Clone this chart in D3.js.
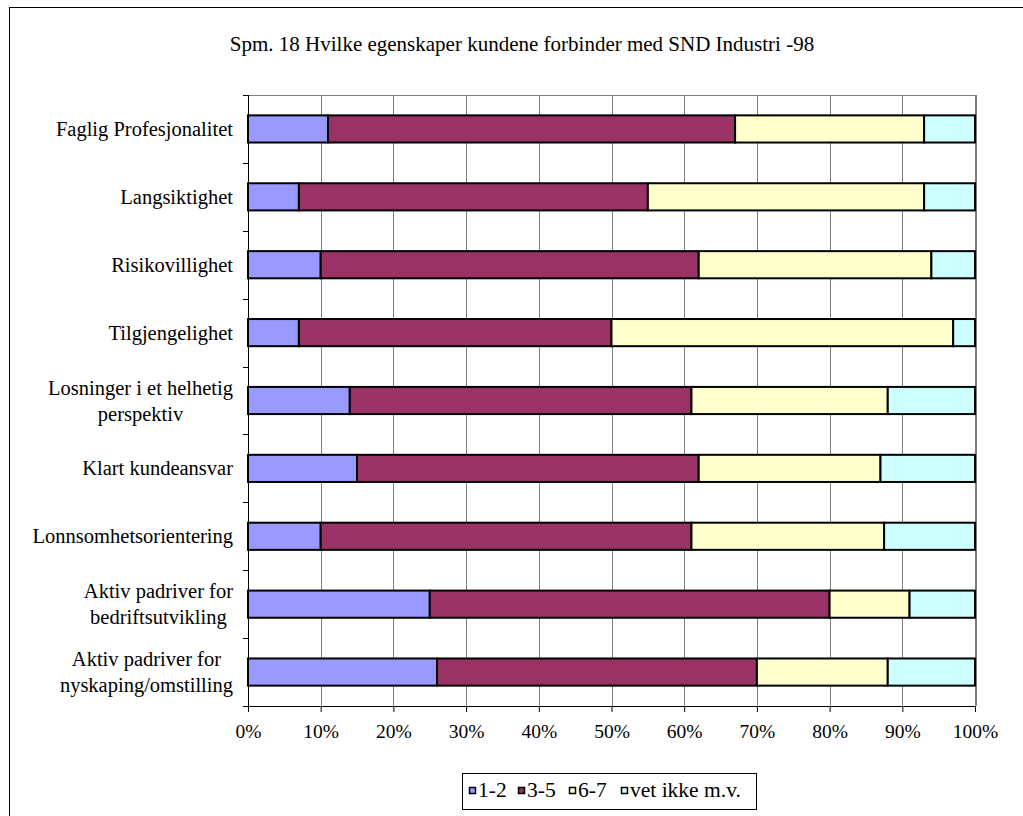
<!DOCTYPE html>
<html>
<head>
<meta charset="utf-8">
<script src="https://cdn.jsdelivr.net/npm/d3@7"></script>
<style>
  html, body { margin: 0; padding: 0; background: #fff; }
  svg { display: block; }
  svg text { font-family: "Liberation Serif", "Times New Roman", serif; fill: #000; }
</style>
</head>
<body>
<svg id="chart" width="1023" height="816"></svg>
<script>
// Survey question 18: share of answers per attribute, stacked to 100 %
const categories = [
  ["Faglig Profesjonalitet"],
  ["Langsiktighet"],
  ["Risikovillighet"],
  ["Tilgjengelighet"],
  ["Losninger i et helhetig", "perspektiv"],
  ["Klart kundeansvar"],
  ["Lonnsomhetsorientering"],
  ["Aktiv padriver for", "bedriftsutvikling"],
  ["Aktiv padriver for", "nyskaping/omstilling"]
];
const seriesNames = ["1-2", "3-5", "6-7", "vet ikke m.v."];
const score12   = [11,  7, 10,  7, 14, 15, 10,   25, 26];
const score35   = [56, 48, 52, 43, 47, 47, 51,   55, 44];
const score67   = [26, 38, 32, 47, 27, 25, 26.5, 11, 18];
const dontKnow  = [ 7,  7,  6,  3, 12, 13, 12.5,  9, 12];
const tickValues = [0, 10, 20, 30, 40, 50, 60, 70, 80, 90, 100];
const titleText = "Spm. 18 Hvilke egenskaper kundene forbinder med SND Industri -98";
const colors = ["#9999FF", "#993366", "#FFFFCC", "#CCFFFF"];

const seriesValues = [score12, score35, score67, dontKnow];
const rows = categories.map((c, i) => {
  const r = { key: i };
  seriesNames.forEach((s, j) => { r[s] = seriesValues[j][i]; });
  return r;
});

const svg = d3.select("#chart");
const plot = { left: 248, right: 975, top: 95, bottom: 706 };

// outer chart frame
svg.append("rect")
  .attr("x", 9.5).attr("y", 7.5)
  .attr("width", 1040).attr("height", 830)
  .attr("fill", "#fff").attr("stroke", "#000").attr("stroke-width", 1);

svg.append("text")
  .attr("x", 522).attr("y", 51)
  .attr("text-anchor", "middle")
  .attr("font-size", 21)
  .text(titleText);

const x = d3.scaleLinear().domain([0, 100]).range([plot.left, plot.right]);
const y = d3.scaleBand()
  .domain(d3.range(categories.length))
  .range([plot.top, plot.bottom])
  .paddingInner(0.6).paddingOuter(0.3);

// gridlines
svg.append("g")
  .selectAll("line")
  .data(tickValues.filter(v => v > 0))
  .join("line")
  .attr("x1", d => Math.round(x(d)) + 0.5).attr("x2", d => Math.round(x(d)) + 0.5)
  .attr("y1", plot.top).attr("y2", plot.bottom)
  .attr("stroke", "#808080").attr("stroke-width", 1);
svg.append("line")
  .attr("x1", plot.left).attr("x2", plot.right + 1)
  .attr("y1", plot.top + 0.5).attr("y2", plot.top + 0.5)
  .attr("stroke", "#808080").attr("stroke-width", 1);
svg.append("line")
  .attr("x1", plot.right + 1).attr("x2", plot.right + 1)
  .attr("y1", plot.top).attr("y2", plot.bottom)
  .attr("stroke", "#808080").attr("stroke-width", 2);

// stacked bars
const stack = d3.stack().keys(seriesNames);
const stacked = stack(rows);
svg.append("g")
  .selectAll("g")
  .data(stacked)
  .join("g")
  .attr("fill", (d, i) => colors[i])
  .selectAll("rect")
  .data(d => d)
  .join("rect")
  .attr("x", d => x(d[0]))
  .attr("width", d => x(d[1]) - x(d[0]))
  .attr("y", (d, i) => y(i))
  .attr("height", y.bandwidth())
  .attr("stroke", "#000").attr("stroke-width", 2);

// category axis (left)
const yAxisG = svg.append("g");
yAxisG.append("line")
  .attr("x1", plot.left + 0.5).attr("x2", plot.left + 0.5)
  .attr("y1", plot.top).attr("y2", plot.bottom + 6)
  .attr("stroke", "#000");
const step = y.step();
yAxisG.selectAll("line.tick")
  .data(d3.range(categories.length + 1))
  .join("line")
  .attr("class", "tick")
  .attr("x1", plot.left - 5).attr("x2", plot.left)
  .attr("y1", i => Math.round(plot.top + i * step) + 0.5)
  .attr("y2", i => Math.round(plot.top + i * step) + 0.5)
  .attr("stroke", "#000");

const labelRight = 233;
const lineGap = 26;
categories.forEach((lines, i) => {
  const cy = y(i) + y.bandwidth() / 2;
  const g = svg.append("g");
  const texts = lines.map((ln, k) => g.append("text")
    .attr("y", cy + (k - (lines.length - 1) / 2) * lineGap)
    .attr("dominant-baseline", "central")
    .attr("font-size", 20.5)
    .attr("text-anchor", "middle")
    .text(ln));
  const maxW = d3.max(texts, t => t.node().getComputedTextLength());
  texts.forEach(t => t.attr("x", labelRight - maxW / 2));
});

// value axis (bottom)
const xAxis = d3.axisBottom(x)
  .tickValues(tickValues)
  .tickFormat(d => d + "%")
  .tickSize(6)
  .tickPadding(12);
const xg = svg.append("g")
  .attr("transform", `translate(0,${plot.bottom})`)
  .call(xAxis);
xg.select(".domain").attr("stroke", "#000").attr("d", `M${plot.left},0.5H${plot.right + 1}`);
xg.selectAll(".tick line").attr("stroke", "#000");
xg.selectAll(".tick text")
  .attr("font-family", null)
  .attr("font-size", 19.5);

// legend: boxed row of swatch + label entries
const legendBox = { x: 462.5, y: 773.5, w: 294, h: 36 };
const legendItemX = [469, 518, 569, 621];
const legend = svg.append("g");
legend.append("rect")
  .attr("x", legendBox.x).attr("y", legendBox.y)
  .attr("width", legendBox.w).attr("height", legendBox.h)
  .attr("fill", "#fff").attr("stroke", "#000");
seriesNames.forEach((name, i) => {
  const lx = legendItemX[i];
  legend.append("rect")
    .attr("x", lx + 0.5).attr("y", 787.5)
    .attr("width", 6).attr("height", 6)
    .attr("fill", colors[i]).attr("stroke", "#000").attr("stroke-width", 1.5);
  legend.append("text")
    .attr("x", lx + 9).attr("y", 797)
    .attr("font-size", 21.5)
    .text(name);
});
</script>
</body>
</html>
